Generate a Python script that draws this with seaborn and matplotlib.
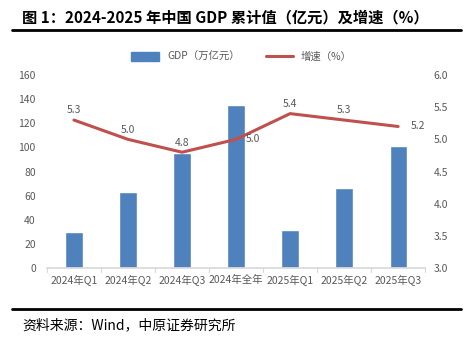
import matplotlib
matplotlib.use("Agg")
import matplotlib.pyplot as plt
import seaborn as sns
import pandas as pd
from matplotlib.lines import Line2D

categories = ["2024年Q1", "2024年Q2", "2024年Q3", "2024年全年", "2025年Q1", "2025年Q2", "2025年Q3"]
gdp = [29.7, 63.2, 95.0, 134.9, 31.8, 66.1, 101.5]
growth = [5.3, 5.0, 4.8, 5.0, 5.4, 5.3, 5.2]
left_ticks = [0, 20, 40, 60, 80, 100, 120, 140, 160]
right_ticks = [3.0, 3.5, 4.0, 4.5, 5.0, 5.5, 6.0]

sns.set_theme(style="white")
plt.rcParams['font.family'] = ['Noto Sans CJK SC', 'DejaVu Sans']

df = pd.DataFrame({"cat": categories, "gdp": gdp, "growth": growth})

fig = plt.figure(figsize=(4.74, 3.41), dpi=100)
ax = fig.add_axes([0.099, 0.214, 0.798, 0.566])
bar_color = "#4F81BD"
line_color = "#C0504D"
txt = "#595959"

sns.barplot(data=df, x="cat", y="gdp", color=bar_color, width=0.32, ax=ax, saturation=1)
if ax.get_legend() is not None:
    ax.get_legend().remove()
ax.set_ylim(0, 160)
ax.set_yticks(left_ticks)
ax.set_xlim(-0.5, len(categories) - 0.5)
ax.set_xlabel("")
ax.set_ylabel("")
for s in ["top", "left", "right"]:
    ax.spines[s].set_visible(False)
ax.spines["bottom"].set_color("#D9D9D9")
ax.tick_params(axis="y", length=0, labelsize=7.5, labelcolor=txt, pad=8)
ax.tick_params(axis="x", length=0, labelsize=7.5, labelcolor=txt, pad=5)
for b in range(len(categories) + 1):
    ax.plot([b - 0.5, b - 0.5], [0, -3], color="#D9D9D9", lw=0.8, clip_on=False)

ax2 = ax.twinx()
sns.lineplot(x=list(range(len(categories))), y=growth, color=line_color, lw=2.2, ax=ax2,
             legend=False)
ax2.set_ylim(3.0, 6.0)
ax2.set_yticks(right_ticks)
ax2.set_yticklabels([f"{t:.1f}" for t in right_ticks])
for s in ["top", "left", "right", "bottom"]:
    ax2.spines[s].set_visible(False)
ax2.tick_params(axis="y", length=0, labelsize=7.5, labelcolor=txt, pad=6)

offsets = [(0, 7), (0, 7), (0, 7), (12, 0), (0, 7), (0, 7), (14, 0)]
for i, (v, off) in enumerate(zip(growth, offsets)):
    ax2.annotate(f"{v:.1f}", (i, v), xytext=off, textcoords="offset points",
                 ha="center", va="center", fontsize=7.5, color=txt)

handles = [plt.Rectangle((0, 0), 1, 1, color=bar_color),
           Line2D([0], [0], color=line_color, lw=2.2)]
fig.legend(handles, ["GDP（万亿元）", "增速（%）"], loc="center", bbox_to_anchor=(0.51, 0.833),
           ncol=2, frameon=False, fontsize=7.5, labelcolor=txt, handlelength=2.6,
           handleheight=0.9, columnspacing=2.5)

fig.text(0.047, 0.95, "图 1：2024-2025 年中国 GDP 累计值（亿元）及增速（%）",
         fontsize=11, fontweight="bold", color="black", va="center", ha="left")
fig.add_artist(Line2D([0.025, 0.972], [0.912, 0.912], color="black", lw=2))
fig.add_artist(Line2D([0.025, 0.972], [0.093, 0.093], color="black", lw=2))
fig.text(0.047, 0.047, "资料来源：Wind，中原证券研究所", fontsize=10, color="black",
         va="center", ha="left")

fig.savefig("out.png", dpi=100)
